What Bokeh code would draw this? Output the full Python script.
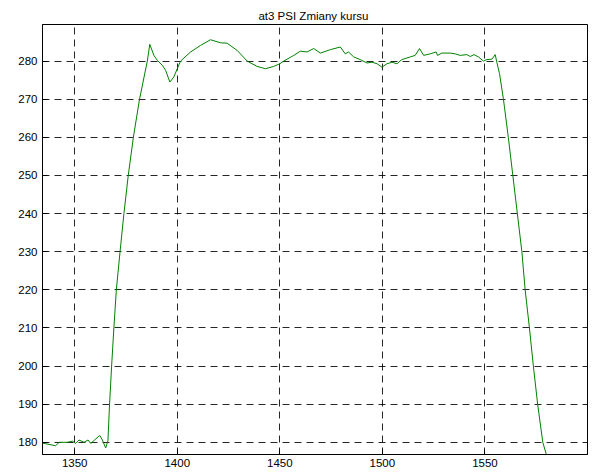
from bokeh.plotting import figure
from bokeh.models import FixedTicker, Range1d
from bokeh.embed import file_html
from bokeh.resources import INLINE

title_text = "at3 PSI  Zmiany kursu"
x_ticks = [1350, 1400, 1450, 1500, 1550]
y_ticks = [180, 190, 200, 210, 220, 230, 240, 250, 260, 270, 280]

x_vals = [1334.3, 1336.0, 1340.7, 1342.4, 1346.4, 1348.9, 1350.5, 1352.1, 1354.5, 1356.5,
          1357.8, 1359.7, 1362.2, 1363.5, 1365.1, 1366.2, 1367.0, 1368.0, 1369.1, 1370.3,
          1372.1, 1374.0, 1376.1, 1378.6, 1381.6, 1385.4, 1386.6, 1388.6, 1390.3, 1392.7,
          1394.3, 1396.4, 1398.3, 1400.0, 1401.6, 1406.5, 1411.3, 1416.2, 1421.1, 1424.3,
          1429.2, 1434.1, 1438.9, 1443.0, 1447.0, 1450.0, 1451.9, 1456.8, 1460.0, 1463.3,
          1466.5, 1469.8, 1474.6, 1479.5, 1481.9, 1483.5, 1486.0, 1489.2, 1492.5, 1494.9,
          1497.4, 1499.8, 1502.2, 1504.7, 1507.1, 1509.5, 1513.6, 1516.0, 1518.1, 1520.1,
          1523.3, 1526.2, 1526.9, 1529.0, 1533.1, 1535.5, 1537.9, 1541.2, 1542.8, 1544.7,
          1546.8, 1549.3, 1550.9, 1553.4, 1555.0, 1555.8, 1557.1, 1559.0, 1559.5, 1561.4,
          1563.6, 1565.8, 1568.0, 1569.6, 1571.7, 1573.6, 1575.7, 1578.2, 1580.1]
y_vals = [179.8, 179.6, 179.1, 180.0, 180.0, 180.3, 179.7, 180.6, 180.0, 180.6,
          179.7, 180.6, 181.8, 180.6, 178.5, 180.4, 190.0, 200.0, 210.0, 220.0,
          230.0, 240.0, 250.0, 260.0, 270.0, 280.0, 284.4, 281.5, 280.2, 278.9,
          277.6, 274.5, 275.8, 278.0, 280.0, 282.4, 284.1, 285.6, 284.8, 284.7,
          282.8, 280.0, 278.6, 278.0, 278.6, 279.3, 280.0, 281.5, 282.6, 282.4,
          283.3, 282.1, 283.0, 283.7, 281.9, 282.4, 281.1, 280.4, 279.5, 279.7,
          279.3, 278.4, 279.3, 279.7, 279.3, 280.4, 281.1, 281.5, 283.3, 281.5,
          281.9, 282.4, 281.5, 282.1, 282.1, 281.9, 281.5, 281.7, 281.2, 281.7,
          281.1, 280.0, 280.4, 280.5, 281.7, 279.7, 276.7, 270.1, 268.0, 260.0,
          250.0, 240.0, 230.0, 220.0, 210.0, 200.0, 190.0, 180.0, 176.5]

FONT = "Liberation Sans"

p = figure(width=592, height=476, output_backend="svg", toolbar_location=None,
           x_range=Range1d(1334.3, 1600), y_range=Range1d(176.8, 289.6),
           min_border_left=42, min_border_right=5, min_border_top=24, min_border_bottom=22)

p.title.text = title_text
p.title.align = "center"
p.title.text_font = FONT
p.title.text_font_size = "11.5px"
p.title.text_font_style = "normal"
p.title.text_color = "black"
p.title.standoff = 5

p.background_fill_color = "white"
p.border_fill_color = "white"
p.outline_line_color = "black"
p.outline_line_width = 1
p.outline_line_alpha = 1

for ax in (p.xaxis[0], p.yaxis[0]):
    ax.axis_line_color = "black"
    ax.major_tick_line_color = "black"
    ax.major_tick_in = 5
    ax.major_tick_out = 0
    ax.minor_tick_line_color = None
    ax.major_label_text_font = FONT
    ax.major_label_text_font_size = "11.5px"
    ax.major_label_text_color = "black"

p.xaxis.ticker = FixedTicker(ticks=x_ticks)
p.yaxis.ticker = FixedTicker(ticks=y_ticks)
p.xaxis.major_label_standoff = 4
p.yaxis.major_label_standoff = 5

for g in (p.xgrid[0], p.ygrid[0]):
    g.grid_line_color = "black"
    g.grid_line_alpha = 0.85
    g.grid_line_dash = "7 5"
    g.grid_line_width = 1
p.xgrid.ticker = FixedTicker(ticks=x_ticks)
p.ygrid.ticker = FixedTicker(ticks=y_ticks)

p.line(x_vals, y_vals, line_color="#008000", line_width=1)

open("out.html", "w").write(file_html(p, INLINE))
